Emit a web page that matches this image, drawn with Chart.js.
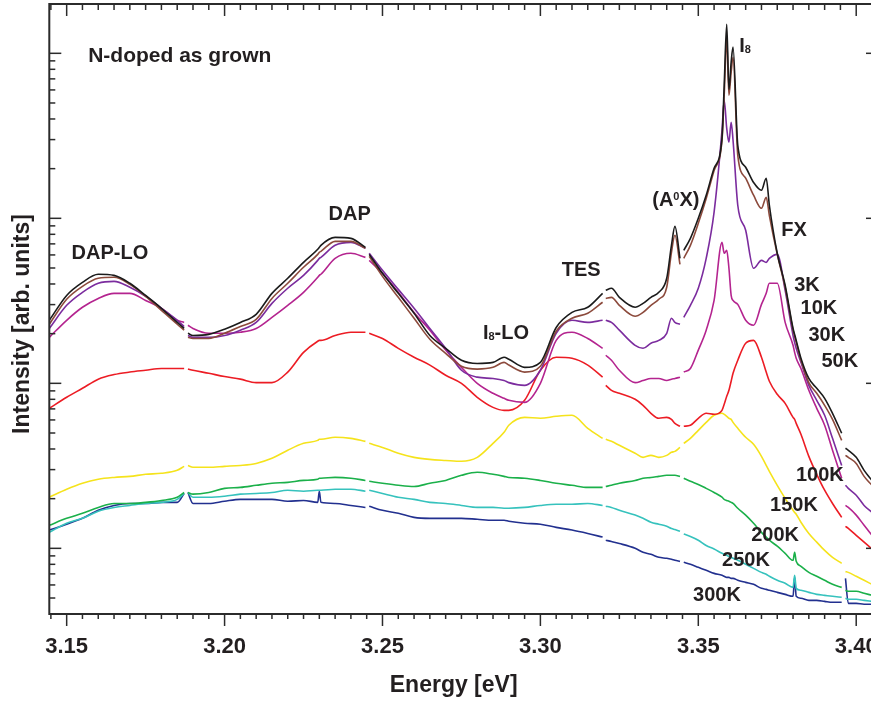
<!DOCTYPE html>
<html>
<head>
<meta charset="utf-8">
<title>N-doped as grown PL</title>
<script src="https://cdn.jsdelivr.net/npm/chart.js@4.4.1/dist/chart.umd.min.js"></script>
<style>
  html, body { margin: 0; padding: 0; background: #fff; overflow: hidden; }
  #wrap { width: 900px; height: 702px; }
</style>
</head>
<body>
<div id="wrap"><canvas id="pl" width="900" height="702"></canvas></div>
<script>
// photon energy in eV; null rows in the spectra mark the stitching gaps
const energy = [
  3.1445, 3.150, 3.155, 3.160, 3.165, 3.170, 3.175, 3.180, 3.185, 3.1872,
  3.1878, 3.1884, 3.190, 3.195, 3.200, 3.205, 3.210, 3.215, 3.220, 3.225,
  3.2295, 3.230, 3.2305, 3.235, 3.240, 3.2446, 3.2452, 3.2458, 3.250, 3.255,
  3.260, 3.265, 3.270, 3.275, 3.280, 3.285, 3.2885, 3.290, 3.295, 3.300,
  3.305, 3.310, 3.315, 3.3197, 3.3202, 3.3207, 3.3225, 3.325, 3.330, 3.3325,
  3.335, 3.3375, 3.340, 3.3415, 3.3426, 3.3442, 3.3448, 3.3454, 3.3475, 3.350,
  3.3525, 3.355, 3.3575, 3.3582, 3.359, 3.3597, 3.3604, 3.361, 3.3625, 3.365,
  3.3675, 3.370, 3.3715, 3.3725, 3.375, 3.3775, 3.380, 3.3805, 3.381, 3.3825,
  3.385, 3.3875, 3.390, 3.3925, 3.3954, 3.3960, 3.3966, 3.3975, 3.400, 3.4025, 3.405
];

const pl3K = [
  24.1, 34.1, 40.9, 45.8, 45.1, 40.4, 34.1, 28.5, 23.4, 21.5,
  null, 20.1, 19.5, 19.8, 21.3, 23.4, 26.2, 35.1, 43.3, 54.1,
  64.9, 66.7, 68.6, 76.7, 75.6, 66.7, null, 60.5, 46.4, 35.1,
  26.6, 19.5, 16.3, 13.8, 13.2, 13.4, 14.4, 14.0, 12.5, 13.4,
  21.8, 26.9, 28.9, 35.1, null, 36.6, 37.7, 33.2, 28.9, 30.5,
  33.2, 35.6, 43.3, 68.6, 89.4, 57.2, null, 64.0, 75.6, 100,
  138, 201, 305, 640, 1500, 605, 882, 1090, 277, 204,
  165, 148, 175, 120, 61.4, 39.3, 21.5, 19.8, 18.2, 14.2,
  10.7, 9.33, 8.11, 6.58, 4.98, null, 4.04, 3.93, 3.56, 2.97, 2.58
];
const pl10K = [
  22.8, 32.3, 38.7, 43.3, 43.9, 39.8, 33.7, 27.7, 22.8, 21.0,
  null, 19.0, 18.7, 18.7, 20.1, 22.1, 24.4, 32.7, 40.4, 50.5,
  60.5, 62.2, 63.1, 72.5, 72.5, 65.8, null, 58.8, 44.5, 33.2,
  24.8, 18.5, 15.2, 12.7, 12.2, 12.5, 13.4, 12.9, 11.7, 12.7,
  20.7, 24.8, 26.6, 31.0, null, 32.7, 33.2, 29.7, 25.5, 26.9,
  29.7, 32.3, 38.2, 62.2, 78.9, 52.6, null, 57.2, 68.6, 93.3,
  132, 195, 297, 557, 1230, 557, 767, 946, 241, 175,
  138, 115, 134, 104, 60.5, 38.2, 21.0, 19.3, 17.7, 13.8,
  10.1, 8.70, 7.36, 6.05, 4.51, null, 3.66, 3.56, 3.27, 2.73, 2.41
];
const pl30K = [
  21.5, 29.7, 35.6, 40.4, 41.5, 38.2, 33.7, 28.5, 24.1, 22.1,
  null, 19.5, 19.0, 19.0, 19.5, 21.0, 23.4, 30.5, 37.7, 45.1,
  55.6, 57.2, 58.0, 68.6, 71.5, 65.8, null, 61.4, 48.4, 37.1,
  28.5, 21.5, 16.3, 12.0, 10.9, 10.7, 10.4, 10.1, 9.72, 12.0,
  20.1, 24.1, 23.4, 24.1, null, 24.1, 23.4, 21.0, 17.0, 16.3,
  17.5, 18.2, 20.1, 24.8, 23.4, 22.8, null, 25.1, 29.7, 37.7,
  57.2, 109, 341, 519, 351, 289, 382, 297, 120, 84.6,
  49.8, 55.6, 54.1, 57.2, 60.5, 36.6, 19.5, 17.7, 16.3, 13.4,
  9.72, 7.89, 6.40, 4.64, 3.18, null, 2.41, 2.31, 2.10, 1.82, 1.65
];
const pl50K = [
  19.0, 24.1, 28.9, 32.7, 35.1, 35.1, 31.8, 28.5, 24.1, 23.4,
  null, 22.5, 21.5, 20.1, 20.1, 20.4, 21.5, 25.1, 29.7, 35.6,
  43.9, 45.1, 45.8, 57.2, 61.4, 58.0, null, 55.6, 46.4, 35.6,
  26.9, 21.0, 15.9, 12.5, 10.0, 8.70, 8.11, 7.89, 7.67, 10.0,
  18.2, 20.4, 18.7, 16.3, null, 14.8, 13.8, 12.0, 10.1, 10.4,
  10.7, 10.7, 10.4, 10.6, 10.7, 10.9, null, 11.7, 12.3, 15.9,
  21.0, 31.8, 71.5, 61.4, 64.0, 49.8, 34.1, 31.8, 30.1, 24.1,
  22.5, 30.1, 35.1, 40.4, 40.4, 23.4, 17.0, 15.4, 14.2, 12.3,
  9.07, 7.05, 5.57, 3.93, 2.66, null, 1.82, 1.77, 1.59, 1.38, 1.20
];
const pl100K = [
  7.05, 8.23, 9.33, 10.6, 11.3, 11.7, 12.0, 12.3, 12.3, 12.3,
  null, 12.2, 12.0, 11.5, 11.0, 10.6, 10.1, 10.1, 11.7, 15.4,
  18.0, 18.2, 18.2, 19.5, 20.4, 20.4, null, 20.1, 18.7, 16.3,
  14.4, 12.9, 11.2, 10.0, 8.23, 7.15, 6.86, 6.86, 7.89, 12.0,
  14.4, 14.2, 12.9, 10.9, null, 9.72, 9.07, 8.70, 8.00, 7.36,
  6.58, 6.14, 6.22, 6.05, 5.72, 5.49, null, 5.49, 5.57, 6.14,
  6.58, 6.49, 6.86, 7.46, 8.34, 9.07, 10.3, 11.5, 13.8, 17.5,
  18.2, 14.4, 11.7, 10.3, 8.58, 7.56, 6.22, 6.05, 5.72, 4.91,
  3.61, 2.81, 2.25, 1.87, 1.54, null, 1.36, 1.32, 1.20, 1.09, 0.99
];
const pl150K = [
  2.04, 2.28, 2.48, 2.62, 2.69, 2.73, 2.81, 2.85, 2.97, 3.14,
  null, 3.18, 3.10, 3.10, 3.14, 3.18, 3.27, 3.51, 3.93, 4.33,
  4.51, 4.58, 4.58, 4.71, 4.64, 4.45, null, 4.33, 4.09, 3.77,
  3.56, 3.46, 3.41, 3.37, 3.56, 4.33, 5.05, 5.57, 6.22, 6.14,
  6.31, 6.40, 5.34, 4.64, null, 4.58, 4.45, 4.21, 3.77, 3.56,
  3.66, 3.56, 3.66, 3.82, 3.87, 4.09, null, 4.33, 4.64, 5.19,
  5.80, 6.40, 6.58, 6.49, 6.31, 6.14, 6.05, 5.80, 5.34, 4.71,
  4.27, 3.61, 3.18, 2.93, 2.41, 2.01, 1.70, 1.65, 1.61, 1.44,
  1.23, 1.09, 0.972, 0.882, 0.811, null, 0.725, 0.715, 0.677, 0.640, 0.605
];
const pl200K = [
  1.38, 1.52, 1.63, 1.77, 1.87, 1.87, 1.90, 1.95, 2.04, 2.18,
  null, 2.18, 2.13, 2.18, 2.31, 2.34, 2.41, 2.48, 2.51, 2.58,
  2.62, 2.66, 2.66, 2.69, 2.66, 2.58, null, 2.55, 2.48, 2.41,
  2.37, 2.48, 2.58, 2.77, 2.89, 2.81, 2.73, 2.69, 2.66, 2.58,
  2.48, 2.41, 2.34, 2.34, null, 2.37, 2.41, 2.48, 2.58, 2.66,
  2.69, 2.73, 2.77, 2.77, 2.77, 2.73, null, 2.66, 2.55, 2.44,
  2.31, 2.18, 2.04, 1.98, 1.95, 1.93, 1.90, 1.87, 1.75, 1.59,
  1.42, 1.25, 1.17, 1.12, 1.03, 0.933, 0.846, 0.946, 0.834, 0.778,
  0.715, 0.677, 0.640, 0.605, 0.580, null, 0.557, 0.549, 0.549, 0.534, 0.519
];
const pl250K = [
  1.25, 1.42, 1.52, 1.68, 1.77, 1.82, 1.87, 1.90, 1.98, 2.15,
  null, 2.18, 2.04, 2.04, 2.07, 2.13, 2.15, 2.18, 2.25, 2.22,
  2.25, 2.25, 2.25, 2.28, 2.28, 2.22, null, 2.25, 2.15, 2.04,
  1.98, 1.90, 1.87, 1.82, 1.77, 1.77, 1.75, 1.75, 1.77, 1.82,
  1.85, 1.85, 1.87, 1.82, null, 1.80, 1.77, 1.70, 1.59, 1.52,
  1.44, 1.40, 1.36, 1.32, 1.30, 1.27, null, 1.22, 1.18, 1.12,
  1.04, 0.99, 0.933, 0.920, 0.907, 0.894, 0.882, 0.870, 0.846, 0.800,
  0.756, 0.715, 0.696, 0.677, 0.640, 0.614, 0.580, 0.686, 0.572, 0.557,
  0.541, 0.526, 0.519, 0.512, 0.505, null, 0.498, 0.491, 0.491, 0.484, 0.477
];
const pl300K = [
  1.29, 1.40, 1.52, 1.70, 1.82, 1.87, 1.87, 1.90, 1.90, 2.15,
  null, 2.18, 1.87, 1.87, 1.93, 1.98, 1.98, 1.98, 1.93, 1.95,
  1.90, 2.22, 1.90, 1.87, 1.82, 1.77, null, 1.80, 1.70, 1.63,
  1.54, 1.52, 1.52, 1.52, 1.50, 1.48, 1.48, 1.46, 1.42, 1.40,
  1.34, 1.29, 1.23, 1.17, null, 1.12, 1.10, 1.07, 1.00, 0.946,
  0.920, 0.882, 0.870, 0.858, 0.846, 0.834, null, 0.823, 0.800, 0.767,
  0.736, 0.705, 0.686, 0.677, 0.667, 0.667, 0.658, 0.658, 0.640, 0.622,
  0.605, 0.572, 0.564, 0.557, 0.541, 0.526, 0.512, 0.667, 0.512, 0.498,
  0.484, 0.484, 0.477, 0.471, 0.471, null, 0.658, 0.464, 0.464, 0.458, 0.458
];

const temperatures = ['3K', '10K', '30K', '50K', '100K', '150K', '200K', '250K', '300K'];
const spectra = [pl3K, pl10K, pl30K, pl50K, pl100K, pl150K, pl200K, pl250K, pl300K];
const lineColors = ['#1b1b1b', '#8c4a3c', '#7b2c9e', '#b4248f', '#ec1c24',
                    '#f5e31c', '#1bb04a', '#36c2bd', '#22308f'];

const FONT = '"Liberation Sans", Arial, Helvetica, sans-serif';
const INK = '#231f20';

// text placed in data coordinates (energy, intensity); parts: [text, 'sub'|'sup'|'']
const notes = [
  { parts: [['N-doped as grown', '']], e: 3.1568, i: 990, size: 21, align: 'left' },
  { parts: [['DAP-LO', '']], e: 3.1637, i: 62.5 },
  { parts: [['DAP', '']], e: 3.2396, i: 108 },
  { parts: [['I', ''], ['8', 'sub'], ['-LO', '']], e: 3.2891, i: 20.5 },
  { parts: [['TES', '']], e: 3.3129, i: 49.3 },
  { parts: [['(A', ''], ['0', 'sup'], ['X)', '']], e: 3.3429, i: 131 },
  { parts: [['I', ''], ['8', 'sub']], e: 3.3648, i: 1122 },
  { parts: [['FX', '']], e: 3.3803, i: 86.1 },
  { parts: [['3K', '']], e: 3.3844, i: 40.0 },
  { parts: [['10K', '']], e: 3.3882, i: 29.0 },
  { parts: [['30K', '']], e: 3.3907, i: 19.9 },
  { parts: [['50K', '']], e: 3.3948, i: 13.9 },
  { parts: [['100K', '']], e: 3.3885, i: 2.82 },
  { parts: [['150K', '']], e: 3.3803, i: 1.85 },
  { parts: [['200K', '']], e: 3.3743, i: 1.22 },
  { parts: [['250K', '']], e: 3.3651, i: 0.861 },
  { parts: [['300K', '']], e: 3.3559, i: 0.528 }
];

function drawParts(ctx, parts, cx, cy, size, align) {
  const small = Math.round(size * 0.55);
  const pieces = parts.map(([t, kind]) => {
    const font = `bold ${kind ? small : size}px ${FONT}`;
    ctx.font = font;
    return { t, kind, font, w: ctx.measureText(t).width };
  });
  const total = pieces.reduce((s, p) => s + p.w, 0);
  let x = align === 'left' ? cx : cx - total / 2;
  const base = cy + size * 0.358;
  ctx.textAlign = 'left';
  ctx.textBaseline = 'alphabetic';
  for (const p of pieces) {
    ctx.font = p.font;
    let by = base;
    if (p.kind === 'sub') by = base + 1;
    if (p.kind === 'sup') by = cy - size * 0.358 + small * 0.716;
    ctx.fillText(p.t, x, by);
    x += p.w;
  }
}

const frame = {
  id: 'frame',
  afterDraw(chart) {
    const { ctx, chartArea: a, scales: { x, y } } = chart;
    const seg = (x1, y1, x2, y2) => { ctx.beginPath(); ctx.moveTo(x1, y1); ctx.lineTo(x2, y2); ctx.stroke(); };
    ctx.save();
    ctx.strokeStyle = '#2b2b2b';
    ctx.lineWidth = 2;
    ctx.strokeRect(a.left, a.top, a.right - a.left, a.bottom - a.top);

    // energy ticks every 5 meV, long ones every 50 meV
    ctx.lineWidth = 1.5;
    for (let k = Math.ceil(x.min / 0.005 - 1e-6); k * 0.005 <= x.max + 1e-9; k++) {
      const px = x.getPixelForValue(k * 0.005);
      const major = k % 10 === 0;
      seg(px, a.bottom, px, a.bottom + (major ? 12 : 5));
      seg(px, a.top, px, a.top + (major ? 12 : 6));
    }
    // log intensity ticks, long ones at each decade
    for (let d = -1; d <= 3; d++) {
      for (let m = 1; m <= 9; m++) {
        const v = m * Math.pow(10, d);
        if (v < y.min || v > y.max) continue;
        const py = y.getPixelForValue(v);
        const len = m === 1 ? 12 : 6;
        seg(a.left, py, a.left + len, py);
        seg(a.right, py, a.right - len, py);
      }
    }

    ctx.fillStyle = INK;
    for (const n of notes) {
      drawParts(ctx, n.parts, x.getPixelForValue(n.e), y.getPixelForValue(n.i), n.size || 20, n.align);
    }

    // axis titles
    ctx.font = `bold 23px ${FONT}`;
    ctx.textAlign = 'center';
    ctx.textBaseline = 'middle';
    ctx.fillText('Energy [eV]', (a.left + a.right) / 2 - 10, a.bottom + 72);
    ctx.translate(a.left - 27, (a.top + a.bottom) / 2 + 15);
    ctx.rotate(-Math.PI / 2);
    ctx.fillText('Intensity [arb. units]', 0, 0);
    ctx.restore();
  }
};

new Chart(document.getElementById('pl'), {
  type: 'line',
  data: {
    datasets: temperatures.map((t, s) => ({
      label: t,
      data: energy.map((e, i) => ({ x: e, y: spectra[s][i] })),
      borderColor: lineColors[s],
      backgroundColor: lineColors[s],
      borderWidth: 1.6,
      pointRadius: 0,
      cubicInterpolationMode: 'monotone',
      fill: false,
      spanGaps: false
    }))
  },
  options: {
    responsive: false,
    animation: false,
    devicePixelRatio: 1,
    events: [],
    layout: { padding: { left: 49.3, right: 22, top: 4, bottom: 0 } },
    plugins: { legend: { display: false }, tooltip: { enabled: false } },
    scales: {
      x: {
        type: 'linear',
        min: 3.1445,
        max: 3.4069,
        border: { display: false },
        grid: { display: false, drawTicks: false },
        afterFit: (scale) => { scale.height = 88; },
        ticks: {
          stepSize: 0.05,
          includeBounds: false,
          autoSkip: false,
          maxRotation: 0,
          padding: 20,
          color: INK,
          font: { family: FONT, size: 22, weight: 'bold' },
          callback: (v) => v.toFixed(2)
        }
      },
      y: {
        type: 'logarithmic',
        display: false,
        min: 0.4,
        max: 1990
      }
    }
  },
  plugins: [frame]
});
</script>
</body>
</html>
